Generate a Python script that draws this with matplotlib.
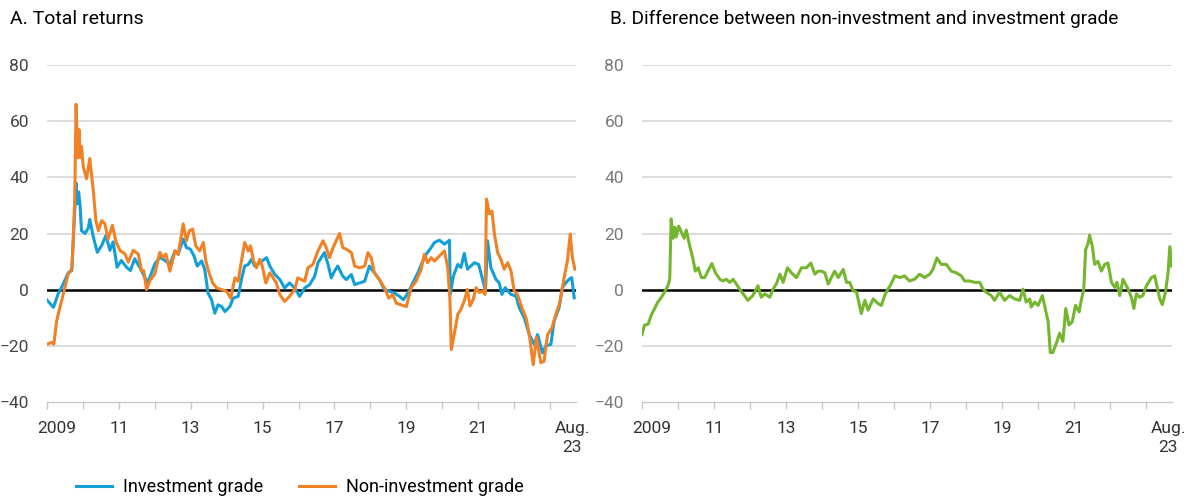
import matplotlib
matplotlib.use('agg')
import matplotlib.pyplot as plt
from matplotlib.transforms import ScaledTranslation

plt.rcParams['font.family'] = ['Roboto', 'DejaVu Sans']

# Panel A: total returns (decimal years, percent)
ig_x = [2009.00, 2009.18, 2009.31, 2009.45, 2009.59, 2009.69, 2009.73, 2009.81, 2009.84, 2009.88,
        2009.92, 2009.96, 2010.06, 2010.15, 2010.19, 2010.29, 2010.40, 2010.52, 2010.64, 2010.75,
        2010.84, 2010.95, 2011.07, 2011.21, 2011.32, 2011.44, 2011.58, 2011.72, 2011.81, 2012.00,
        2012.14, 2012.28, 2012.42, 2012.56, 2012.65, 2012.79, 2012.88, 2012.99, 2013.09, 2013.18,
        2013.30, 2013.39, 2013.48, 2013.58, 2013.67, 2013.76, 2013.86, 2013.95, 2014.09, 2014.18,
        2014.32, 2014.41, 2014.50, 2014.60, 2014.69, 2014.78, 2014.92, 2015.11, 2015.20, 2015.34,
        2015.48, 2015.61, 2015.75, 2015.89, 2016.03, 2016.17, 2016.31, 2016.45, 2016.54, 2016.63,
        2016.72, 2016.82, 2016.91, 2017.00, 2017.09, 2017.23, 2017.33, 2017.47, 2017.56, 2017.70,
        2017.84, 2017.97, 2018.11, 2018.25, 2018.39, 2018.53, 2018.67, 2018.81, 2018.92, 2019.04,
        2019.18, 2019.32, 2019.46, 2019.55, 2019.69, 2019.78, 2019.92, 2020.06, 2020.20, 2020.22,
        2020.31, 2020.43, 2020.52, 2020.61, 2020.70, 2020.80, 2020.89, 2021.01, 2021.12, 2021.20,
        2021.26, 2021.35, 2021.49, 2021.58, 2021.66, 2021.75, 2021.91, 2022.05, 2022.14, 2022.28,
        2022.42, 2022.56, 2022.65, 2022.79, 2022.88, 2023.02, 2023.11, 2023.25, 2023.34, 2023.44,
        2023.53, 2023.60, 2023.67]
ig_y = [-3.7, -6.3, -1.5, 2.0, 6.0, 6.8, 17.5, 38.0, 30.6, 34.8,
        30.0, 21.0, 20.0, 22.0, 25.0, 18.7, 13.3, 15.7, 19.3, 14.0,
        17.0, 8.0, 10.4, 8.0, 6.8, 11.0, 8.0, 4.4, 2.6, 9.2,
        11.5, 10.4, 9.0, 13.8, 12.6, 18.0, 15.0, 14.4, 12.0, 8.4,
        10.2, 7.2, -1.2, -3.6, -8.4, -5.4, -6.0, -7.8, -6.0, -3.0,
        -2.4, 3.6, 8.4, 9.0, 10.8, 8.4, 9.6, 11.4, 8.4, 5.4,
        3.6, 0.6, 2.4, 0.6, -2.4, 0.6, 1.8, 4.8, 9.6, 11.4,
        13.2, 9.0, 4.2, 6.6, 8.4, 4.8, 3.6, 5.4, 1.8, 2.4,
        3.0, 8.4, 6.0, 3.6, 0.0, -0.6, -1.2, -2.4, -3.6, -1.2,
        2.4, 6.0, 10.2, 12.6, 15.0, 16.8, 17.6, 16.2, 17.6, -1.7,
        4.9, 9.0, 7.9, 12.9, 7.3, 8.5, 9.6, 9.0, 3.7, -0.5,
        17.4, 7.9, 3.7, 2.5, -1.7, 0.7, -1.7, -2.3, -6.4, -10.0,
        -16.0, -19.5, -16.0, -22.5, -20.0, -19.5, -11.2, -6.4, 0.7, 2.5,
        3.7, 4.3, -2.9]

hy_x = [2009.00, 2009.13, 2009.19, 2009.27, 2009.36, 2009.47, 2009.59, 2009.69, 2009.73, 2009.77,
        2009.81, 2009.85, 2009.89, 2009.93, 2009.96, 2010.01, 2010.10, 2010.19, 2010.29, 2010.36,
        2010.43, 2010.52, 2010.61, 2010.70, 2010.82, 2010.92, 2011.03, 2011.17, 2011.26, 2011.40,
        2011.54, 2011.63, 2011.69, 2011.77, 2011.86, 2012.00, 2012.14, 2012.23, 2012.31, 2012.42,
        2012.56, 2012.65, 2012.79, 2012.88, 2012.96, 2013.05, 2013.14, 2013.25, 2013.35, 2013.42,
        2013.51, 2013.61, 2013.72, 2013.86, 2014.00, 2014.11, 2014.23, 2014.32, 2014.41, 2014.50,
        2014.60, 2014.66, 2014.75, 2014.83, 2014.92, 2014.99, 2015.09, 2015.20, 2015.29, 2015.38,
        2015.48, 2015.61, 2015.75, 2015.89, 2015.98, 2016.08, 2016.17, 2016.26, 2016.40, 2016.54,
        2016.68, 2016.77, 2016.86, 2016.96, 2017.07, 2017.14, 2017.23, 2017.33, 2017.47, 2017.56,
        2017.70, 2017.84, 2017.93, 2018.02, 2018.11, 2018.25, 2018.39, 2018.51, 2018.62, 2018.72,
        2018.85, 2019.00, 2019.13, 2019.27, 2019.41, 2019.50, 2019.59, 2019.69, 2019.78, 2019.92,
        2020.06, 2020.15, 2020.21, 2020.25, 2020.33, 2020.43, 2020.52, 2020.61, 2020.70, 2020.77,
        2020.86, 2020.94, 2021.03, 2021.12, 2021.19, 2021.23, 2021.31, 2021.38, 2021.45, 2021.54,
        2021.63, 2021.72, 2021.82, 2021.91, 2022.00, 2022.09, 2022.23, 2022.33, 2022.42, 2022.53,
        2022.62, 2022.74, 2022.83, 2022.93, 2023.05, 2023.16, 2023.27, 2023.39, 2023.48, 2023.56,
        2023.62, 2023.69]
hy_y = [-19.4, -18.8, -19.4, -11.0, -6.3, -0.4, 5.6, 7.4, 17.5, 31.8,
        66.0, 47.0, 57.0, 47.0, 51.0, 43.7, 39.5, 46.7, 35.0, 24.6,
        21.0, 24.6, 23.5, 18.0, 22.9, 17.0, 14.0, 12.7, 9.8, 14.0,
        12.7, 6.8, 6.8, 0.0, 3.2, 5.6, 13.3, 11.5, 12.7, 6.6,
        13.8, 12.6, 23.4, 17.4, 21.0, 21.6, 15.6, 13.8, 16.8, 10.2,
        6.0, 2.4, 0.6, 0.0, -0.6, -3.0, 4.2, 3.0, 10.2, 16.8,
        13.8, 15.6, 10.2, 7.8, 10.8, 8.4, 2.4, 6.0, 4.2, 2.4,
        -1.8, -4.2, -2.4, 0.0, 4.2, 3.6, 3.0, 7.8, 9.0, 13.8,
        17.4, 15.0, 11.4, 15.0, 18.0, 20.0, 15.0, 14.4, 13.2, 8.4,
        7.8, 8.4, 13.2, 11.4, 6.0, 3.6, 0.6, -3.0, -1.8, -4.8,
        -5.4, -6.0, 0.6, 3.0, 7.2, 12.6, 9.6, 11.4, 10.2, 12.0,
        13.8, 7.9, -2.9, -21.3, -16.0, -8.8, -7.0, -4.0, 0.1, -5.8,
        -3.5, 0.7, -1.0, -0.5, -1.7, 32.3, 27.0, 28.0, 19.8, 13.2,
        10.8, 7.3, 9.6, 6.7, -0.5, -1.7, -7.0, -10.0, -16.0, -26.7,
        -17.0, -26.0, -25.5, -16.0, -13.6, -8.8, -4.6, 4.3, 10.2, 19.8,
        11.4, 7.3]

# Panel B: non-investment minus investment grade
diff_x = [2009.00, 2009.07, 2009.17, 2009.26, 2009.35, 2009.44, 2009.54, 2009.65, 2009.72, 2009.77,
          2009.81, 2009.86, 2009.91, 2009.95, 2010.02, 2010.09, 2010.17, 2010.23, 2010.32, 2010.42,
          2010.48, 2010.56, 2010.65, 2010.74, 2010.83, 2010.94, 2011.04, 2011.16, 2011.25, 2011.34,
          2011.44, 2011.53, 2011.62, 2011.71, 2011.81, 2011.94, 2012.08, 2012.22, 2012.31, 2012.41,
          2012.55, 2012.64, 2012.73, 2012.83, 2012.92, 2013.04, 2013.15, 2013.29, 2013.43, 2013.57,
          2013.69, 2013.80, 2013.89, 2013.98, 2014.08, 2014.17, 2014.26, 2014.35, 2014.45, 2014.59,
          2014.68, 2014.77, 2014.86, 2014.96, 2015.09, 2015.19, 2015.28, 2015.42, 2015.56, 2015.65,
          2015.74, 2015.83, 2015.92, 2016.02, 2016.16, 2016.29, 2016.43, 2016.57, 2016.71, 2016.85,
          2016.99, 2017.08, 2017.19, 2017.31, 2017.45, 2017.59, 2017.73, 2017.87, 2017.96, 2018.10,
          2018.24, 2018.38, 2018.47, 2018.56, 2018.70, 2018.79, 2018.93, 2019.07, 2019.21, 2019.35,
          2019.49, 2019.58, 2019.67, 2019.77, 2019.81, 2019.91, 2020.00, 2020.12, 2020.21, 2020.28,
          2020.34, 2020.41, 2020.51, 2020.60, 2020.69, 2020.77, 2020.86, 2020.95, 2021.04, 2021.14,
          2021.20, 2021.27, 2021.32, 2021.39, 2021.43, 2021.51, 2021.57, 2021.66, 2021.76, 2021.85,
          2021.94, 2022.04, 2022.13, 2022.19, 2022.27, 2022.36, 2022.50, 2022.59, 2022.66, 2022.73,
          2022.82, 2022.91, 2023.01, 2023.15, 2023.24, 2023.30, 2023.38, 2023.45, 2023.54, 2023.61,
          2023.66, 2023.71]
diff_y = [-16.0, -12.6, -12.3, -9.0, -6.7, -4.4, -2.7, -0.3, 1.4, 3.7,
          25.2, 18.3, 22.3, 18.8, 22.6, 20.6, 18.3, 21.2, 15.9, 10.7,
          6.6, 7.8, 4.3, 4.3, 6.6, 9.3, 6.0, 3.7, 3.1, 3.7,
          2.6, 3.7, 2.0, 0.2, -1.5, -3.8, -2.1, 1.4, -2.7, -1.5,
          -2.7, 0.2, 2.0, 5.5, 2.6, 7.8, 6.0, 4.3, 7.8, 7.8,
          9.5, 5.5, 6.6, 6.6, 6.0, 2.0, 4.3, 6.6, 4.3, 7.2,
          2.6, 2.6, -0.3, -0.9, -8.5, -3.8, -7.3, -3.3, -5.0, -5.6,
          -2.1, 0.2, 2.0, 4.9, 4.3, 4.9, 3.1, 3.7, 5.5, 4.3,
          5.5, 7.2, 11.3, 9.0, 9.0, 6.6, 6.0, 4.9, 3.1, 3.1,
          2.6, 2.6, 0.2, -0.9, -2.1, -3.8, -0.9, -3.8, -2.1, -3.3,
          -3.8, 0.2, -4.4, -3.3, -6.2, -4.4, -5.6, -2.1, -7.3, -11.4,
          -22.4, -22.4, -19.0, -15.5, -18.4, -6.7, -12.6, -11.4, -5.6, -7.9,
          -3.8, 0.2, 14.2, 16.5, 19.4, 15.3, 9.0, 10.1, 6.6, 9.0,
          9.5, 2.6, 0.8, 2.6, -2.1, 3.7, 0.2, -2.7, -6.7, -1.5,
          -2.7, -2.1, 1.4, 4.3, 4.9, 1.4, -3.3, -5.3, -0.9, 6.0,
          15.3, 8.4]

year_ticks = list(range(2009, 2024))
label_pos = [2009, 2011, 2013, 2015, 2017, 2019, 2021, 2023.62]
label_txt = ['2009', '11', '13', '15', '17', '19', '21', 'Aug.\n23']
y_ticks = [-40, -20, 0, 20, 40, 60, 80]

BLUE = '#129fd8'
ORANGE = '#f08124'
GREEN = '#74b72e'
GRID = '#d2d2d2'

fig = plt.figure(figsize=(11.92, 4.99), dpi=100)
ax1 = fig.add_axes([47 / 1192, 1 - 402 / 499, 529 / 1192, 337 / 499])
ax2 = fig.add_axes([642 / 1192, 1 - 402 / 499, 530 / 1192, 337 / 499])


def style(ax, label_color):
    ax.set_xlim(2009, 2023.72)
    ax.set_ylim(-40, 80)
    for s in ['top', 'right', 'left']:
        ax.spines[s].set_visible(False)
    ax.spines['bottom'].set_color('#c8c8c8')
    ax.spines['bottom'].set_linewidth(1.0)
    for v in [-20, 20, 40, 60, 80]:
        ax.axhline(v, color=GRID, lw=1.1, zorder=0)
    ax.axhline(0, color='black', lw=1.8, zorder=1)
    ax.set_yticks(y_ticks)
    ax.tick_params(axis='y', length=0, pad=13, labelsize=12.5, labelcolor=label_color)
    ax.set_xticks(year_ticks)
    ax.set_xticklabels([])
    ax.tick_params(axis='x', which='major', length=5, width=1.0, color='#c8c8c8')
    for xp, t in zip(label_pos, label_txt):
        dx = 7 / 72 if t == '2009' else 0
        tr = ax.get_xaxis_transform() + ScaledTranslation(dx, 0, fig.dpi_scale_trans)
        ax.text(xp, -0.055, t, transform=tr, ha='center', va='top',
                fontsize=12.5, color='#333333', linespacing=1.4)


style(ax1, '#444444')
style(ax2, '#7a7a7a')

ax1.plot(ig_x, ig_y, color=BLUE, lw=2.2, label='Investment grade', zorder=3)
ax1.plot(hy_x, hy_y, color=ORANGE, lw=2.2, label='Non-investment grade', zorder=4)
ax2.plot(diff_x, diff_y, color=GREEN, lw=2.2, zorder=3)

fig.text(10 / 1192, 1 - 19 / 499, 'A. Total returns', fontsize=14, va='center', ha='left')
fig.text(610 / 1192, 1 - 19 / 499, 'B. Difference between non-investment and investment grade',
         fontsize=13.7, va='center', ha='left')

fig.legend(loc='center', bbox_to_anchor=(300 / 1192, 1 - 487 / 499), ncol=2, frameon=False,
           fontsize=13, handlelength=2.0, handletextpad=0.6, columnspacing=2.0)

fig.savefig('out.png', dpi=100)
